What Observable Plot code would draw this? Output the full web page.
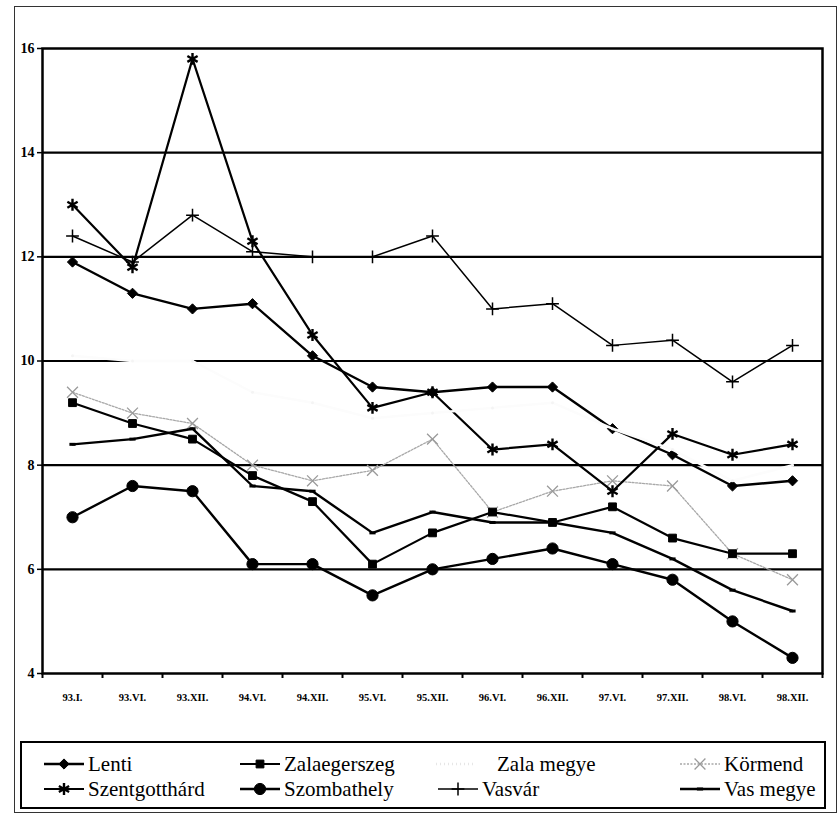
<!DOCTYPE html>
<html><head><meta charset="utf-8">
<script src="https://cdn.jsdelivr.net/npm/d3@7"></script>
<script src="https://cdn.jsdelivr.net/npm/@observablehq/plot@0.6"></script>
<style>
body{margin:0;background:#fff;width:840px;height:816px;position:relative;overflow:hidden;font-family:"Liberation Serif","Tinos","Times New Roman","DejaVu Serif",serif;}
#frame{position:absolute;left:14px;top:6px;width:823px;height:807px;border:1.5px solid #333;box-sizing:border-box;}
#chart{position:absolute;left:0;top:0;}
#legend{position:absolute;left:20px;top:741px;width:806px;height:68px;border:2px solid #000;box-sizing:border-box;}
.item{position:absolute;display:flex;align-items:center;font-size:21px;line-height:1;color:#000;font-family:"Liberation Serif","Tinos","Times New Roman","DejaVu Serif",serif;}
.item svg{margin-right:2px;}
</style></head><body>
<div id="frame"></div><div id="chart"></div><div id="legend"></div>
<script>
const periods = ["93.I.", "93.VI.", "93.XII.", "94.VI.", "94.XII.", "95.VI.", "95.XII.", "96.VI.", "96.XII.", "97.VI.", "97.XII.", "98.VI.", "98.XII."];
const seriesNames = ["Lenti", "Zalaegerszeg", "Zala megye", "Körmend", "Szentgotthárd", "Szombathely", "Vasvár", "Vas megye"];
const lenti         = [11.9, 11.3, 11.0, 11.1, 10.1, 9.5, 9.4, 9.5, 9.5, 8.7, 8.2, 7.6, 7.7];
const zalaegerszeg  = [9.2, 8.8, 8.5, 7.8, 7.3, 6.1, 6.7, 7.1, 6.9, 7.2, 6.6, 6.3, 6.3];
const zalaMegye     = [10.1, 10.0, 10.0, 9.4, 9.2, 8.9, 9.0, 9.1, 9.2, 8.7, 8.3, 7.7, 8.0];
const kormend       = [9.4, 9.0, 8.8, 8.0, 7.7, 7.9, 8.5, 7.1, 7.5, 7.7, 7.6, 6.3, 5.8];
const szentgotthard = [13.0, 11.8, 15.8, 12.3, 10.5, 9.1, 9.4, 8.3, 8.4, 7.5, 8.6, 8.2, 8.4];
const szombathely   = [7.0, 7.6, 7.5, 6.1, 6.1, 5.5, 6.0, 6.2, 6.4, 6.1, 5.8, 5.0, 4.3];
const vasvar        = [12.4, 11.9, 12.8, 12.1, 12.0, 12.0, 12.4, 11.0, 11.1, 10.3, 10.4, 9.6, 10.3];
const vasMegye      = [8.4, 8.5, 8.7, 7.6, 7.5, 6.7, 7.1, 6.9, 6.9, 6.7, 6.2, 5.6, 5.2];
const yTicks = [4, 6, 8, 10, 12, 14, 16];

const values = [lenti, zalaegerszeg, zalaMegye, kormend, szentgotthard, szombathely, vasvar, vasMegye];
const FONT = '"Liberation Serif", "Tinos", "Times New Roman", "DejaVu Serif", serif';

// custom short-dash marker
const dash = {draw(ctx, size) { const w = Math.sqrt(size); ctx.moveTo(-w / 2, 0); ctx.lineTo(w / 2, 0); }};

const styles = {
  "Lenti":         {symbol: "diamond2", r: 4.6, fill: "#000", stroke: "#000", sw: 2.4, line: "#000"},
  "Zalaegerszeg":  {symbol: "square", r: 4.4, fill: "#000", stroke: "#000", sw: 2.2, line: "#000"},
  "Zala megye":    {symbol: "circle", r: 1.5, fill: "#f4f4f4", stroke: "none", sw: 2.5, line: "#fcfcfc"},
  "Körmend":       {symbol: "times", r: 5, fill: "none", stroke: "#9a9a9a", sw: 1.3, line: "#a8a8a8", dash: "2,1.5", msw: 1.3},
  "Szentgotthárd": {symbol: "asterisk", r: 5.6, fill: "none", stroke: "#000", sw: 2.2, line: "#000", msw: 2.4},
  "Szombathely":   {symbol: "circle", r: 5.6, fill: "#000", stroke: "#000", sw: 2.4, line: "#000"},
  "Vasvár":        {symbol: "plus", r: 4.2, fill: "none", stroke: "#000", sw: 1.5, line: "#000", msw: 1.5},
  "Vas megye":     {symbol: dash, r: 3.5, fill: "none", stroke: "#000", sw: 2.4, line: "#000", msw: 3}
};
const drawOrder = ["Körmend", "Vasvár", "Vas megye", "Szombathely", "Zalaegerszeg", "Lenti", "Szentgotthárd", "Zala megye"];

const rows = seriesNames.flatMap((name, s) => values[s].map((v, i) => ({series: name, x: i + 0.5, v})));

const seriesMarks = drawOrder.flatMap(name => {
  const st = styles[name];
  const data = rows.filter(d => d.series === name);
  return [
    Plot.line(data, {x: "x", y: "v", stroke: st.line, strokeWidth: st.sw, strokeDasharray: st.dash ?? null}),
    Plot.dot(data, {x: "x", y: "v", symbol: () => st.symbol, r: st.r, fill: st.fill, stroke: st.stroke, strokeWidth: st.msw ?? 1})
  ];
});

const chart = Plot.plot({
  width: 840,
  height: 730,
  marginLeft: 42,
  marginRight: 18,
  marginTop: 48,
  marginBottom: 57,
  style: {fontFamily: FONT, background: "transparent", color: "#000", overflow: "visible"},
  x: {type: "linear", domain: [0, periods.length]},
  y: {domain: [4, 16]},
  symbol: {type: "identity"},
  marks: [
    Plot.ruleY(yTicks.slice(1, -1), {stroke: "#000", strokeWidth: 2.2}),
    Plot.axisY({ticks: yTicks, tickSize: 5, tickPadding: 3, fontWeight: "bold", fontSize: 14, tickFormat: d => String(d), strokeWidth: 1.5, label: null}),
    Plot.axisX({ticks: d3.range(periods.length + 1), tickSize: 5, tickFormat: () => "", label: null, strokeWidth: 2}),
    Plot.axisX({ticks: periods.map((p, i) => i + 0.5), tickSize: 0, tickPadding: 20, tickFormat: t => periods[Math.round(t - 0.5)], fontWeight: "bold", fontSize: 10.5, label: null}),
    ...seriesMarks,
    Plot.frame({stroke: "#000", strokeWidth: 2.5})
  ]
});
document.getElementById("chart").appendChild(chart);

// legend
const legendPos = {
  "Lenti": [20, 21], "Zalaegerszeg": [216, 21], "Zala megye": [412, 21], "Körmend": [656, 21],
  "Szentgotthárd": [20, 46], "Szombathely": [216, 46], "Vasvár": [414, 46], "Vas megye": [656, 46]
};
const symMap = {diamond2: d3.symbolDiamond2, square: d3.symbolSquare, circle: d3.symbolCircle, times: d3.symbolTimes, asterisk: d3.symbolAsterisk, plus: d3.symbolPlus};
const legend = d3.select("#legend");
for (const name of seriesNames) {
  const st = styles[name];
  const [lx, ly] = legendPos[name];
  const item = legend.append("div").attr("class", "item").style("left", lx + "px").style("top", (ly - 12) + "px");
  const svg = item.append("svg").attr("width", 44).attr("height", 24);
  svg.append("line").attr("x1", 2).attr("x2", 42).attr("y1", 12).attr("y2", 12)
    .attr("stroke", name === "Zala megye" ? "#e6e6e6" : st.line).attr("stroke-width", st.sw)
    .attr("stroke-dasharray", name === "Zala megye" ? "1,3" : (st.dash ?? null));
  const type = typeof st.symbol === "string" ? symMap[st.symbol] : st.symbol;
  if (name !== "Zala megye") {
    svg.append("path").attr("transform", "translate(22,12)")
      .attr("d", d3.symbol(type, Math.PI * st.r * st.r)())
      .attr("fill", st.fill).attr("stroke", st.stroke).attr("stroke-width", st.msw ?? 1);
  }
  item.append("span").text(name).style("margin-left", name === "Zala megye" ? "17px" : "0px");
}
</script>
</body></html>
